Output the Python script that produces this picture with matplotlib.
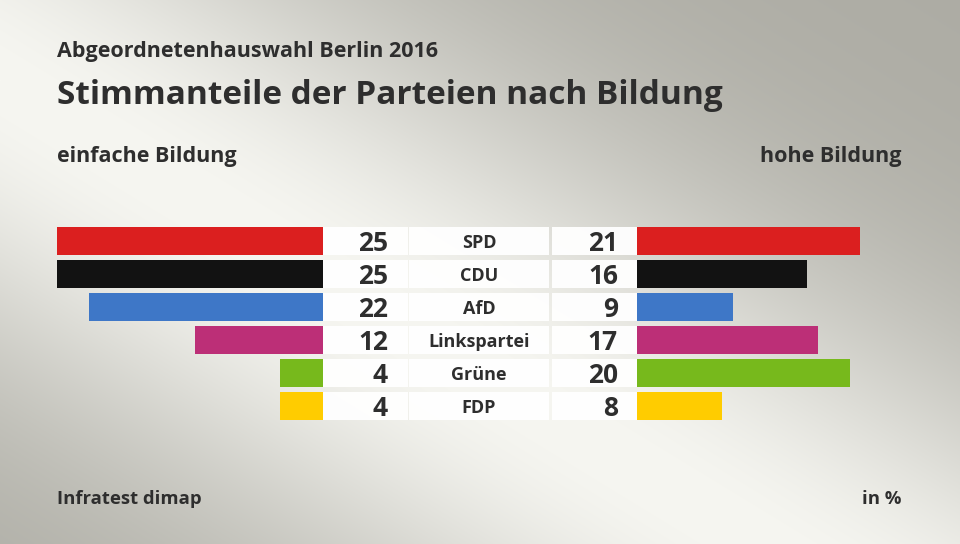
import numpy as np
import matplotlib
matplotlib.use("Agg")
import matplotlib.pyplot as plt
from matplotlib.colors import to_rgb

# data
parties = ["SPD", "CDU", "AfD", "Linkspartei", "Grüne", "FDP"]
einfach = [25, 25, 22, 12, 4, 4]
hoch = [21, 16, 9, 17, 20, 8]
colors = ["#db1f1f", "#121212", "#3e77c7", "#bc2f77", "#77b91c", "#ffcc00"]

INK = "#2e2e2e"
FONT = "Open Sans"
W, H = 960, 544


def px(x0, y0, w, h):
    """pixel box (top-left origin) -> figure fraction"""
    return [x0 / W, 1 - (y0 + h) / H, w / W, h / H]


fig = plt.figure(figsize=(9.6, 5.44), dpi=100)

# background gradient
bg = fig.add_axes([0, 0, 1, 1])
yy, xx = np.mgrid[0:H, 0:W]
d = -0.521 * xx + 0.853 * (yy - 80)
t = np.exp(-(d / 260.0) ** 2)[..., None]
light, dark = np.array(to_rgb("#f6f6f1")), np.array(to_rgb("#adaca4"))
bg.imshow(dark + (light - dark) * t, aspect="auto", extent=[0, W, H, 0])
bg.set_xlim(0, W)
bg.set_ylim(H, 0)
bg.axis("off")

n = len(parties)
pitch = 33
top = 227 - 2.5
rows = np.arange(n)
bh = 28 / pitch

axl = fig.add_axes(px(57, top, 266, n * pitch))
axl.barh(rows, einfach, height=bh, color=colors)
axl.set_xlim(25, 0)
axl.set_ylim(n - 0.5, -0.5)
axl.axis("off")

axr = fig.add_axes(px(637, top, 266, n * pitch))
axr.barh(rows, hoch, height=bh, color=colors)
axr.set_xlim(0, 25)
axr.set_ylim(n - 0.5, -0.5)
axr.axis("off")

axm = fig.add_axes(px(323, top, 314, n * pitch))
axm.set_xlim(0, 314)
axm.set_ylim(n - 0.5, -0.5)
axm.axis("off")
for left, width in [(0, 85), (86, 140), (229, 85)]:
    axm.barh(rows, [width] * n, left=left, height=bh, color="white", alpha=0.95)
for i in rows:
    axm.text(65, i, str(einfach[i]), ha="right", va="center_baseline",
             fontsize=19, fontweight="bold", color=INK, family=FONT)
    axm.text(156, i, parties[i], ha="center", va="center_baseline",
             fontsize=13, fontweight="bold", color=INK, family=FONT)
    axm.text(295, i, str(hoch[i]), ha="right", va="center_baseline",
             fontsize=19, fontweight="bold", color=INK, family=FONT)

kw = dict(color=INK, family=FONT, fontweight="bold")
fig.text(57 / W, 1 - 57 / H, "Abgeordnetenhauswahl Berlin 2016", fontsize=15.5, **kw)
fig.text(57 / W, 1 - 104 / H, "Stimmanteile der Parteien nach Bildung", fontsize=24, **kw)
fig.text(57 / W, 1 - 162 / H, "einfache Bildung", fontsize=15.5, **kw)
fig.text(902 / W, 1 - 162 / H, "hohe Bildung", fontsize=15.5, ha="right", **kw)
fig.text(57 / W, 1 - 504 / H, "Infratest dimap", fontsize=13.3, **kw)
fig.text(902 / W, 1 - 504 / H, "in %", fontsize=13.3, ha="right", **kw)

fig.savefig("out.png", dpi=100)
